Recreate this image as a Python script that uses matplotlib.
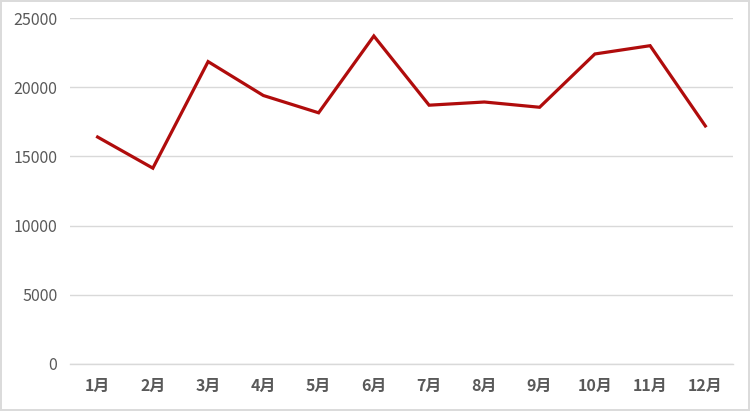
import matplotlib
matplotlib.use("Agg")
import matplotlib.pyplot as plt
from matplotlib.patches import Rectangle

plt.rcParams['font.family'] = ['Noto Sans CJK SC', 'DejaVu Sans']

months = ['1月', '2月', '3月', '4月', '5月', '6月',
          '7月', '8月', '9月', '10月', '11月', '12月']
values = [16400, 14150, 21850, 19400, 18150, 23700,
          18700, 18930, 18550, 22400, 23000, 17200]
y_ticks = [0, 5000, 10000, 15000, 20000, 25000]

fig = plt.figure(figsize=(7.5, 4.11), dpi=100)
ax = fig.add_axes([0.0933, 0.1144, 0.884, 0.8418])

x = list(range(len(months)))
ax.plot(x, values, color='#B00C0C', linewidth=2.3, solid_joinstyle='miter')

ax.set_xlim(-0.5, len(months) - 0.5)
ax.set_ylim(0, 25000)
ax.set_yticks(y_ticks)
ax.set_yticklabels([str(v) for v in y_ticks])
ax.set_xticks(x)
ax.set_xticklabels(months)

ax.grid(axis='y', color='#D9D9D9', linewidth=1)
ax.set_axisbelow(True)
for s in ['top', 'right', 'left']:
    ax.spines[s].set_visible(False)
ax.spines['bottom'].set_color('#D9D9D9')
ax.spines['bottom'].set_linewidth(1)

ax.tick_params(axis='both', length=0, colors='#595959', labelsize=11.5)
ax.tick_params(axis='x', pad=10)
ax.tick_params(axis='y', pad=9)
for lab in ax.get_xticklabels():
    lab.set_fontweight('bold')
for lab in ax.get_yticklabels():
    lab.set_fontweight('medium')

# light frame round the whole picture
fig.patches.append(Rectangle((0.001, 0.0015), 0.998, 0.997, transform=fig.transFigure,
                             fill=False, edgecolor='#DADADA', linewidth=1.4))

fig.savefig('out.png', dpi=100)
